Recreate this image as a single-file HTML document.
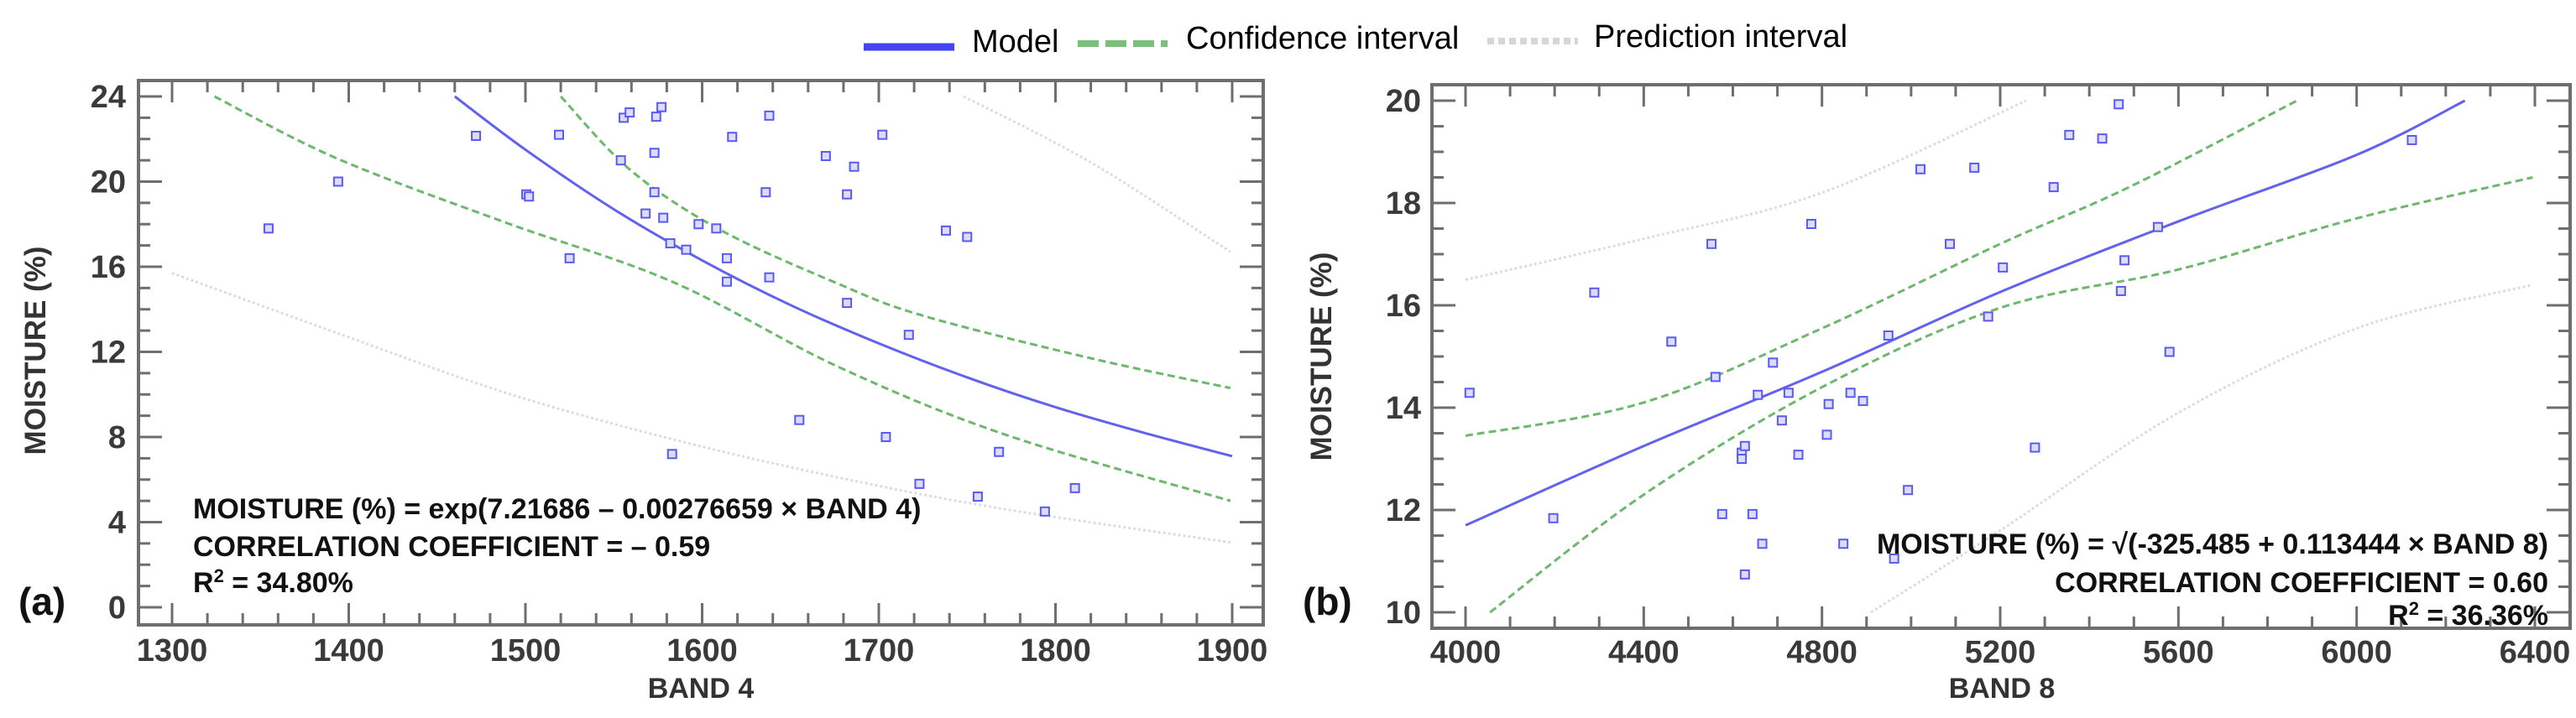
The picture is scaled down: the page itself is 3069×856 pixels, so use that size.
<!DOCTYPE html>
<html><head><meta charset="utf-8"><style>
html,body{margin:0;padding:0;background:#fff;width:3069px;height:856px;overflow:hidden}
svg text{font-family:"Liberation Sans Narrow","Liberation Sans",sans-serif}
</style></head><body>
<svg id="fig" width="3069" height="856" viewBox="0 0 3069 856" xmlns="http://www.w3.org/2000/svg">
<g>
 <line x1="1029" y1="56" x2="1137" y2="56" stroke="#4444f5" stroke-width="9"/>
 <text x="1158" y="62" font-size="38" style="font-family:'Liberation Sans',sans-serif">Model</text>
 <line x1="1284" y1="52" x2="1391" y2="52" stroke="#7cbf7c" stroke-width="8" stroke-dasharray="25 8"/>
 <text x="1413" y="58" font-size="38" style="font-family:'Liberation Sans',sans-serif">Confidence interval</text>
 <line x1="1772" y1="49" x2="1880" y2="49" stroke="#d6d6d6" stroke-width="8" stroke-dasharray="8 5"/>
 <text x="1899" y="56" font-size="38" style="font-family:'Liberation Sans',sans-serif">Prediction interval</text>
</g>
<g id="pa"></g>
<g id="pb"></g>
</svg>
<script>
// ---- Panel A data (BAND 4 vs MOISTURE) ----
const aPointsX=[1354.6,1394,1472,1500.5,1502,1519,1525,1554,1555.6,1559,1568,1573,1573,1574,1577,1578,1582,1583,1591,1598,1608,1614,1614,1617,1636,1638,1638,1655,1670,1682,1682,1686,1702,1704,1717,1723,1738,1750,1756,1768,1794,1811];
const aPointsY=[17.8,20.0,22.15,19.4,19.3,22.2,16.4,21.0,23.0,23.25,18.5,21.35,19.5,23.05,23.5,18.3,17.1,7.2,16.8,18.0,17.8,16.4,15.3,22.1,19.5,15.5,23.1,8.8,21.2,14.3,19.4,20.7,22.2,8.0,12.8,5.8,17.7,17.4,5.2,7.3,4.5,5.6];
const aModelX=[1460,1500,1550,1600,1650,1700,1750,1800,1850,1900];
const aModelY=[24.0,21.5,18.7,16.3,14.2,12.4,10.8,9.4,8.2,7.1];
const aConfUpX=[1520,1560,1611,1677,1725,1820,1899];
const aConfUpY=[24,20.5,17.7,15.2,13.7,11.7,10.3];
const aConfLoX=[1324,1393,1488,1583,1677,1772,1899];
const aConfLoY=[24,21.1,18.1,15.3,11.3,8.1,5.0];
const aPredUpX=[1748,1820,1899];
const aPredUpY=[24,20.9,16.7];
const aPredLoX=[1300,1393,1488,1583,1677,1772,1899];
const aPredLoY=[15.7,12.9,10.1,7.9,6.1,4.6,3.05];
const aXTicks=[1300,1400,1500,1600,1700,1800,1900];
const aYTicks=[0,4,8,12,16,20,24];
// ---- Panel B data (BAND 8 vs MOISTURE) ----
const bPointsX=[4009,4197,4289,4462,4552,4561,4576,4620,4620,4627,4627,4644,4656,4666,4690,4710,4725,4747,4776,4811,4815,4848,4864,4892,4949,4962,4993,5021,5087,5142,5173,5206,5278,5320,5355,5429,5466,5471,5479,5554,5580,6124];
const bPointsY=[14.29,11.84,16.25,15.29,17.2,14.6,11.92,13.12,13.0,13.25,10.74,11.92,14.25,11.34,14.88,13.75,14.29,13.08,17.59,13.47,14.07,11.34,14.29,14.13,15.41,11.05,12.39,18.66,17.2,18.69,15.78,16.74,13.22,18.31,19.33,19.26,19.93,16.28,16.88,17.53,15.09,19.23];
const bModelX=[4000,4400,4800,5200,5600,6000,6243];
const bModelY=[11.7,13.25,14.7,16.26,17.64,18.94,20.0];
const bConfUpX=[4000,4400,4800,5200,5487,5866];
const bConfUpY=[13.45,14.1,15.55,17.2,18.3,20];
const bConfLoX=[4055,4400,4800,5200,5600,6000,6395];
const bConfLoY=[10,12.3,14.4,15.95,16.7,17.7,18.5];
const bPredUpX=[4000,4400,4800,5258];
const bPredUpY=[16.5,17.3,18.2,20.0];
const bPredLoX=[4910,5200,5600,6000,6395];
const bPredLoY=[10,11.6,13.9,15.55,16.4];
const bXTicks=[4000,4400,4800,5200,5600,6000,6400];
const bYTicks=[10,12,14,16,18,20];

const NS='http://www.w3.org/2000/svg';
function mk(parent,tag,attrs){const e=document.createElementNS(NS,tag);for(const k in attrs)e.setAttribute(k,attrs[k]);parent.appendChild(e);return e;}
function smoothPath(pts){
  if(pts.length<3)return 'M'+pts.map(p=>p.join(',')).join(' L');
  let d='M'+pts[0][0]+','+pts[0][1];
  for(let i=0;i<pts.length-1;i++){
    const p0=pts[i-1]||pts[i],p1=pts[i],p2=pts[i+1],p3=pts[i+2]||p2;
    const c1=[p1[0]+(p2[0]-p0[0])/6,p1[1]+(p2[1]-p0[1])/6];
    const c2=[p2[0]-(p3[0]-p1[0])/6,p2[1]-(p3[1]-p1[1])/6];
    d+=' C'+c1.join(',')+' '+c2.join(',')+' '+p2.join(',');
  }
  return d;
}

function panel(g,cfg){
  const sx=v=>cfg.px0+(v-cfg.x0)*(cfg.px1-cfg.px0)/(cfg.x1-cfg.x0);
  const sy=v=>cfg.py0+(v-cfg.y0)*(cfg.py1-cfg.py0)/(cfg.y1-cfg.y0);
  const F=cfg.frame;
  const fr=mk(g,'rect',{x:F[0],y:F[1],width:F[2]-F[0],height:F[3]-F[1],fill:'#fff',stroke:'#6e6e6e','stroke-width':4});
  
  
  const tg=mk(g,'g',{stroke:'#6e6e6e','stroke-width':3});
  
  
  for(let v=cfg.x0;v<=cfg.xMax+1e-6;v+=cfg.xMinor){
    const x=sx(v);if(x<F[0]+3||x>F[2]-3)continue;
    const maj=Math.abs((v-cfg.x0)/cfg.xMajor-Math.round((v-cfg.x0)/cfg.xMajor))<1e-6;
    const L=maj?26:14;
    mk(tg,'line',{x1:x,y1:F[3],x2:x,y2:F[3]-L});
    mk(tg,'line',{x1:x,y1:F[1],x2:x,y2:F[1]+L});
  }
  for(let v=cfg.yMin;v<=cfg.y1+1e-6;v+=cfg.yMinor){
    const y=sy(v);if(y<F[1]+3||y>F[3]-3)continue;
    const maj=Math.abs((v-cfg.yMin)/cfg.yMajor-Math.round((v-cfg.yMin)/cfg.yMajor))<1e-6;
    const L=maj?28:14;
    mk(tg,'line',{x1:F[0],y1:y,x2:F[0]+L,y2:y});
    mk(tg,'line',{x1:F[2],y1:y,x2:F[2]-L,y2:y});
  }
  cfg.xTicks.forEach(v=>{
    const t=mk(g,'text',{x:sx(v),y:cfg.xLabelY,'text-anchor':'middle','font-size':38,'font-weight':'bold',fill:'#3a3a3a'});
    t.textContent=v;
    
    
  });
  cfg.yTicks.forEach(v=>{
    const t=mk(g,'text',{x:cfg.yLabelX,y:sy(v)+13,'text-anchor':'end','font-size':38,'font-weight':'bold',fill:'#3a3a3a'});
    t.textContent=v;
    
    
  });
  const line=(xs,ys,name,st)=>{
    const pts=xs.map((x,i)=>[sx(x),sy(ys[i])]);
    const p=mk(g,'path',Object.assign({d:smoothPath(pts),fill:'none'},st));
    
    
  };
  const pred={stroke:'#dcdcdc','stroke-width':3,'stroke-dasharray':'3 3'};
  const conf={stroke:'#6cb86c','stroke-width':3,'stroke-dasharray':'9 5'};
  line(cfg.predUpX,cfg.predUpY,'prediction-upper',pred);
  line(cfg.predLoX,cfg.predLoY,'prediction-lower',pred);
  line(cfg.confUpX,cfg.confUpY,'confidence-upper',conf);
  line(cfg.confLoX,cfg.confLoY,'confidence-lower',conf);
  line(cfg.modelX,cfg.modelY,'model-line',{stroke:'#6262ee','stroke-width':3});
  cfg.px.forEach((x,i)=>{
    const r=mk(g,'rect',{x:sx(x)-5,y:sy(cfg.py[i])-5,width:10,height:10,fill:'#dcdcff',stroke:'#5a5af0','stroke-width':2});
    
    
  });
}

panel(document.getElementById('pa'),{x0:1300,x1:1900,px0:205,px1:1468,y0:0,y1:24,py0:724,py1:115,yMin:0,xMax:1900,
  frame:[165,96,1505,745],xMinor:20,xMajor:100,yMinor:1,yMajor:4,xTicks:aXTicks,yTicks:aYTicks,xLabelY:788,yLabelX:150,
  px:aPointsX,py:aPointsY,modelX:aModelX,modelY:aModelY,confUpX:aConfUpX,confUpY:aConfUpY,confLoX:aConfLoX,confLoY:aConfLoY,
  predUpX:aPredUpX,predUpY:aPredUpY,predLoX:aPredLoX,predLoY:aPredLoY});
panel(document.getElementById('pb'),{x0:4000,x1:6400,px0:1746,px1:3020,y0:10,y1:20,py0:730,py1:120,yMin:10,xMax:6400,
  frame:[1706,101,3062,749],xMinor:100,xMajor:400,yMinor:0.5,yMajor:2,xTicks:bXTicks,yTicks:bYTicks,xLabelY:790,yLabelX:1693,
  px:bPointsX,py:bPointsY,modelX:bModelX,modelY:bModelY,confUpX:bConfUpX,confUpY:bConfUpY,confLoX:bConfLoX,confLoY:bConfLoY,
  predUpX:bPredUpX,predUpY:bPredUpY,predLoX:bPredLoX,predLoY:bPredLoY});
</script>
<svg style="position:absolute;left:0;top:0" width="3069" height="856">
 <g font-family="'Liberation Sans Narrow','Liberation Sans',sans-serif" font-weight="bold" fill="#111">
  <text transform="translate(54,418) rotate(-90)" text-anchor="middle" font-size="35" fill="#333" style="font-family:'Liberation Sans',sans-serif">MOISTURE (%)</text>
  <text x="835" y="832" text-anchor="middle" font-size="34" fill="#333">BAND 4</text>
  <text x="230" y="618" font-size="34">MOISTURE (%) = exp(7.21686 – 0.00276659 × BAND 4)</text>
  <text x="230" y="663" font-size="34">CORRELATION COEFFICIENT = – 0.59</text>
  <text x="230" y="706" font-size="34">R<tspan font-size="22" dy="-12">2</tspan><tspan dy="12"> = 34.80%</tspan></text>
  <text x="22" y="733" font-size="46">(a)</text>
  <text transform="translate(1586,425) rotate(-90)" text-anchor="middle" font-size="35" fill="#333" style="font-family:'Liberation Sans',sans-serif">MOISTURE (%)</text>
  <text x="2385" y="832" text-anchor="middle" font-size="34" fill="#333">BAND 8</text>
  <text x="3036" y="660" text-anchor="end" font-size="34">MOISTURE (%) = √(-325.485 + 0.113444 × BAND 8)</text>
  <text x="3036" y="706" text-anchor="end" font-size="34">CORRELATION COEFFICIENT = 0.60</text>
  <text x="3036" y="745" text-anchor="end" font-size="34">R<tspan font-size="22" dy="-12">2</tspan><tspan dy="12"> = 36.36%</tspan></text>
  <text x="1552" y="733" font-size="46">(b)</text>
 </g>
</svg>
</body></html>
